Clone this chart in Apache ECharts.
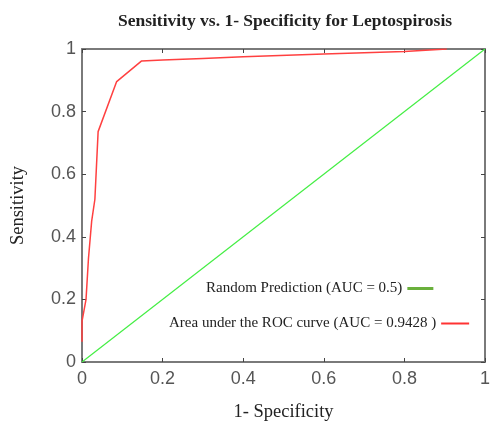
<!DOCTYPE html>
<html>
<head>
<meta charset="utf-8">
<script src="https://cdn.jsdelivr.net/npm/echarts@6/dist/echarts.min.js"></script>
<style>
  html, body { margin: 0; padding: 0; background: #fff; }
  #chart { width: 492px; height: 422px; }
</style>
</head>
<body>
<div id="chart"></div>
<script>
// ROC curve points (1 - specificity, sensitivity)
var rocX = [0, 0, 0.01, 0.016, 0.024, 0.032, 0.04, 0.086, 0.148, 0.2, 0.3, 0.4, 0.6, 0.8, 0.905];
var rocY = [0.065, 0.13, 0.2, 0.33, 0.45, 0.52, 0.736, 0.896, 0.962, 0.965, 0.970, 0.975, 0.984, 0.992, 1.0];
// random prediction diagonal
var randX = [0, 1];
var randY = [0, 1];

var serif = "'Liberation Serif', 'DejaVu Serif', serif";
var sans = "'Liberation Sans', Arial, sans-serif";

function pairs(xs, ys) {
  return xs.map(function (x, i) { return [x, ys[i]]; });
}
function fmt(v) { return String(v); }

var chart = echarts.init(document.getElementById("chart"));

var axisLine = { show: true, onZero: false, lineStyle: { color: "#7a7a7a", width: 2 } };
var axisTick = { show: true, inside: true, length: 4, lineStyle: { color: "#444", width: 1 } };

var option = {
  animation: false,
  title: {
    text: "Sensitivity vs. 1- Specificity for Leptospirosis",
    left: 280, top: 7, textAlign: "center",
    textStyle: { fontFamily: serif, fontSize: 17.5, fontWeight: "bold", color: "#222" }
  },
  grid: { left: 82, right: 7, top: 49, bottom: 60, outerBoundsMode: "none", containLabel: false },
  legend: [
    {
      left: 201, top: 276, align: "right", itemWidth: 26, itemHeight: 3, itemGap: 5,
      icon: "rect",
      textStyle: { fontFamily: serif, fontSize: 15, color: "#222" },
      data: [{ name: "Random Prediction (AUC = 0.5)", itemStyle: { color: "#6ab03c" } }]
    },
    {
      left: 164, top: 311, align: "right", itemWidth: 28, itemHeight: 2, itemGap: 8,
      icon: "rect",
      textStyle: { fontFamily: serif, fontSize: 15, color: "#222" },
      data: [{ name: "Area under the ROC curve (AUC = 0.9428 )", itemStyle: { color: "#ff3333" } }]
    }
  ],
  xAxis: [
    {
      type: "value", min: 0, max: 1, interval: 0.2,
      name: "1- Specificity", nameLocation: "middle", nameGap: 41,
      nameTextStyle: { fontFamily: serif, fontSize: 18.5, color: "#222" },
      axisLine: axisLine, axisTick: axisTick,
      axisLabel: { fontFamily: sans, fontSize: 18, color: "#555", margin: 8, formatter: fmt },
      splitLine: { show: false }
    },
    {
      type: "value", min: 0, max: 1, interval: 0.2, position: "top",
      axisLine: axisLine, axisTick: axisTick, axisLabel: { show: false }, splitLine: { show: false }
    }
  ],
  yAxis: [
    {
      type: "value", min: 0, max: 1, interval: 0.2,
      name: "Sensitivity", nameLocation: "middle", nameGap: 54, nameRotate: 90,
      nameTextStyle: { fontFamily: serif, fontSize: 18.5, color: "#222" },
      axisLine: axisLine, axisTick: axisTick,
      axisLabel: { fontFamily: sans, fontSize: 18, color: "#555", margin: 6, formatter: fmt },
      splitLine: { show: false }
    },
    {
      type: "value", min: 0, max: 1, interval: 0.2, position: "right",
      axisLine: axisLine, axisTick: axisTick, axisLabel: { show: false }, splitLine: { show: false }
    }
  ],
  series: [
    {
      name: "Random Prediction (AUC = 0.5)",
      type: "line", showSymbol: false, symbol: "none",
      lineStyle: { color: "#44ee44", width: 1.2 },
      itemStyle: { color: "#6ab03c" },
      data: pairs(randX, randY), z: 2
    },
    {
      name: "Area under the ROC curve (AUC = 0.9428 )",
      type: "line", showSymbol: false, symbol: "none",
      lineStyle: { color: "#ff4040", width: 1.5 },
      itemStyle: { color: "#ff3333" },
      data: pairs(rocX, rocY), z: 3
    }
  ]
};

chart.setOption(option);
</script>
</body>
</html>
